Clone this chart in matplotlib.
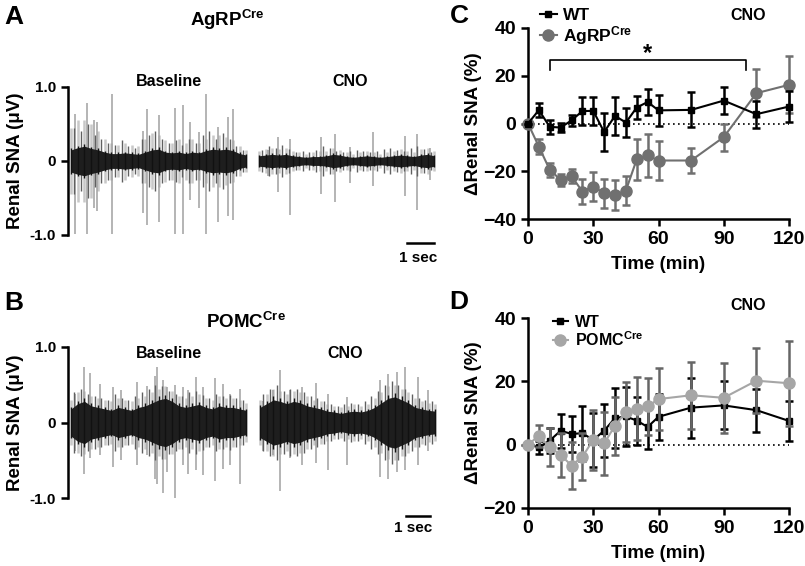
import matplotlib
matplotlib.use("Agg")
import matplotlib.pyplot as plt
from matplotlib.lines import Line2D
import numpy as np

plt.rcParams['font.family'] = ['Liberation Sans', 'DejaVu Sans']
plt.rcParams['font.weight'] = 'bold'
plt.rcParams['mathtext.fontset'] = 'custom'
plt.rcParams['mathtext.rm'] = 'Liberation Sans:bold'
plt.rcParams['mathtext.bf'] = 'Liberation Sans:bold'
plt.rcParams['mathtext.default'] = 'rm'

# ---------------- Panel A / B traces ----------------
env_step = 0.25
A_base_start, A_cno_start = 0.0, 6.96
B_base_start, B_cno_start = 0.0, 7.0

A_base_env = [0.15,0.18,0.20,0.17,0.15,0.12,0.10,0.10,0.11,0.10,0.09,0.12,0.15,0.16,0.12,0.11,0.12,0.10,0.12,0.11,0.14,0.16,0.15,0.16,0.14,0.10,0.08]
A_base_halo = [0.45,0.55,0.55,0.50,0.40,0.30,0.25,0.22,0.25,0.22,0.20,0.30,0.38,0.35,0.28,0.25,0.30,0.25,0.30,0.25,0.30,0.35,0.35,0.33,0.28,0.20,0.15]
A_base_minor = [0.45,0.40,0.50,0.35,0.30,0.25,0.22,0.28,0.20,0.18,0.30,0.35,0.40,0.30,0.25,0.28,0.22,0.30,0.25,0.35,0.40,0.30,0.38,0.30,0.20,0.15]
A_cno_env = [0.07,0.08,0.09,0.08,0.09,0.07,0.06,0.05,0.06,0.06,0.07,0.09,0.08,0.06,0.05,0.06,0.07,0.06,0.05,0.06,0.07,0.08,0.07,0.06,0.08,0.09,0.07]
A_cno_halo = [0.14,0.16,0.18,0.16,0.17,0.14,0.12,0.10,0.12,0.13,0.14,0.17,0.15,0.12,0.10,0.12,0.14,0.12,0.10,0.12,0.14,0.16,0.14,0.12,0.16,0.18,0.14]
A_cno_minor = [0.15,0.20,0.18,0.22,0.16,0.12,0.14,0.12,0.15,0.20,0.17,0.14,0.12,0.14,0.15,0.13,0.12,0.14,0.16,0.18,0.15,0.14,0.18,0.20,0.16,0.12]

A_base_spk_t = [0.15,0.60,0.86,0.95,1.51,2.68,2.80,3.27,3.85,4.14,4.41,4.74,5.02,5.46,5.83,6.01]
A_base_spk_hi = [0.64,0.79,0.55,0.53,0.90,0.40,0.70,0.62,0.72,0.76,0.53,0.39,0.90,0.46,0.60,0.70]
A_base_spk_lo = [-0.98,-0.98,-0.64,-0.68,-0.98,-0.70,-0.87,-0.82,-0.98,-0.98,-0.53,-0.64,-0.98,-0.82,-0.74,-0.80]
A_cno_spk_t = [7.30,7.68,8.12,9.28,9.78,10.35,11.20,12.38,12.82,13.30]
A_cno_spk_hi = [0.15,0.33,0.30,0.32,0.37,0.19,0.39,0.34,0.37,0.17]
A_cno_spk_lo = [-0.20,-0.42,-0.73,-0.44,-0.56,-0.30,-0.34,-0.47,-0.66,-0.25]

B_base_env = [0.18,0.25,0.28,0.22,0.20,0.18,0.16,0.20,0.18,0.16,0.20,0.22,0.26,0.30,0.32,0.28,0.22,0.20,0.22,0.24,0.20,0.18,0.22,0.20,0.20,0.18,0.16]
B_base_halo = [0.30,0.40,0.42,0.35,0.32,0.30,0.28,0.32,0.30,0.28,0.32,0.35,0.40,0.45,0.48,0.42,0.35,0.32,0.35,0.38,0.33,0.30,0.35,0.33,0.32,0.30,0.26]
B_base_minor = [0.40,0.45,0.38,0.35,0.32,0.30,0.38,0.32,0.30,0.35,0.40,0.45,0.50,0.48,0.42,0.38,0.35,0.40,0.42,0.36,0.32,0.38,0.35,0.36,0.32,0.30]
B_cno_env = [0.20,0.25,0.30,0.28,0.25,0.28,0.26,0.22,0.20,0.18,0.15,0.14,0.12,0.14,0.15,0.14,0.16,0.20,0.26,0.32,0.34,0.30,0.26,0.20,0.18,0.16,0.15]
B_cno_halo = [0.30,0.38,0.45,0.42,0.38,0.42,0.40,0.35,0.30,0.28,0.24,0.22,0.20,0.22,0.24,0.22,0.25,0.32,0.40,0.48,0.50,0.45,0.40,0.32,0.28,0.26,0.24]
B_cno_minor = [0.38,0.45,0.50,0.42,0.45,0.44,0.40,0.35,0.32,0.28,0.25,0.22,0.25,0.26,0.24,0.28,0.35,0.42,0.50,0.55,0.50,0.45,0.38,0.32,0.30,0.28]

B_base_spk_t = [0.15,0.50,0.70,1.07,1.54,1.84,2.43,2.80,3.11,3.17,3.40,3.54,3.85,4.14,4.35,4.62,4.90,5.33,5.64,5.89,6.26]
B_base_spk_hi = [0.38,0.74,0.65,0.51,0.47,0.43,0.54,0.48,0.61,0.73,0.56,0.47,0.50,0.47,0.43,0.60,0.47,0.59,0.51,0.38,0.45]
B_base_spk_lo = [-0.38,-0.68,-0.47,-0.43,-0.59,-0.50,-0.56,-0.43,-0.75,-0.82,-0.93,-0.66,-1.00,-0.56,-0.68,-0.63,-0.70,-0.77,-0.61,-0.56,-0.82]
B_cno_spk_t = [7.12,7.47,7.74,8.11,8.54,9.07,9.53,10.21,11.44,11.75,12.06,12.37,12.86,13.23]
B_cno_spk_hi = [0.29,0.43,0.69,0.43,0.47,0.52,0.38,0.34,0.56,0.64,0.67,0.73,0.60,0.43]
B_cno_spk_lo = [-0.38,-0.43,-0.91,-0.47,-0.56,-0.54,-0.63,-0.56,-0.72,-0.75,-0.66,-0.63,-0.56,-0.38]

# ---------------- Panel C / D data ----------------
time_pts = [0,5,10,15,20,25,30,35,40,45,50,55,60,75,90,105,120]
C_wt = [0,5.6,-1.4,-1.7,1.3,5.2,5.3,-3.6,3.2,0.4,6.7,9.0,5.5,5.7,9.6,3.9,7.1]
C_wt_err = [0,3.0,2.9,1.8,2.4,6.0,5.8,8.0,8.0,6.0,4.7,5.4,6.4,7.3,5.6,5.7,6.5]
C_agrp = [0,-9.7,-19.4,-23.6,-22.0,-28.5,-26.4,-29.2,-30.0,-28.1,-15.0,-13.4,-15.5,-15.5,-5.7,12.7,16.2]
C_agrp_err = [0,3.0,3.0,2.5,3.1,5.2,6.1,6.0,6.4,6.0,8.7,9.0,8.2,5.1,5.7,10.0,12.0]

D_wt = [0,-0.8,1.3,4.4,3.4,3.6,1.5,4.4,8.4,8.9,7.6,5.6,8.8,11.7,12.4,10.9,7.5]
D_wt_err = [0,2.0,4.0,5.3,5.8,8.7,8.5,8.3,9.4,9.2,7.6,7.0,7.3,9.5,7.6,6.8,6.4]
D_pomc = [0,2.8,-0.8,-3.2,-6.6,-3.8,1.5,0.4,6.0,10.3,11.4,12.1,14.4,15.6,14.8,20.2,19.4]
D_pomc_err = [0,3.5,6.0,7.0,7.4,7.4,9.5,10.0,9.2,9.6,10.0,8.9,9.9,10.6,11.0,10.2,13.4]

W, H = 805, 566
fig = plt.figure(figsize=(W/100, H/100), dpi=100)

def fx(px):
    return px / W

def fy(py):
    return 1 - py / H

def draw_segment(ax, start, env, halo, minor, spk_t, spk_hi, spk_lo):
    env = np.asarray(env); halo = np.asarray(halo); minor = np.asarray(minor)
    t = start + np.arange(len(env)) * env_step
    tm = start + env_step / 2 + np.arange(len(minor)) * env_step
    ax.vlines(t, -halo, halo, color='#c8c8c8', lw=1.8, zorder=1)
    ax.vlines(spk_t, spk_lo, spk_hi, color='#a0a0a0', lw=1.1, zorder=2)
    ax.vlines(tm, -minor, minor, color='#606060', lw=1.0, zorder=3)
    ax.fill_between(t, -env, env, color='#1e1e1e', lw=0, zorder=4)
    ax.vlines(t, -env * 1.15, env * 1.15, color='#111111', lw=1.0, zorder=5)


def trace_axes(bottom_px, top_px):
    ax = fig.add_axes([fx(68), fy(bottom_px), fx(437) - fx(68), (bottom_px - top_px) / H])
    ax.set_xlim(-0.111, 13.56)
    ax.set_ylim(-1.0, 1.0)
    for s in ['top', 'right', 'bottom']:
        ax.spines[s].set_visible(False)
    ax.spines['left'].set_linewidth(1.8)
    ax.set_xticks([])
    ax.set_yticks([-1.0, 0, 1.0])
    ax.set_yticklabels(['-1.0', '0', '1.0'])
    ax.tick_params(axis='y', length=5, width=1.8, labelsize=11)
    for lab in ax.get_yticklabels():
        lab.set_fontweight('bold')
    ax.set_ylabel('Renal SNA (μV)', fontsize=13.5, fontweight='bold', labelpad=4)
    return ax

# Panel A
axA = trace_axes(235, 87)
draw_segment(axA, A_base_start, A_base_env, A_base_halo, A_base_minor, A_base_spk_t, A_base_spk_hi, A_base_spk_lo)
draw_segment(axA, A_cno_start, A_cno_env, A_cno_halo, A_cno_minor, A_cno_spk_t, A_cno_spk_hi, A_cno_spk_lo)
axA.plot([12.44, 13.44], [-1.11, -1.11], color='black', lw=1.8, clip_on=False)

# Panel B
axB = trace_axes(498, 347)
draw_segment(axB, B_base_start, B_base_env, B_base_halo, B_base_minor, B_base_spk_t, B_base_spk_hi, B_base_spk_lo)
draw_segment(axB, B_cno_start, B_cno_env, B_cno_halo, B_cno_minor, B_cno_spk_t, B_cno_spk_hi, B_cno_spk_lo)
axB.plot([12.4, 13.3], [-1.24, -1.24], color='black', lw=1.8, clip_on=False)

# texts for A and B
fig.text(fx(4), fy(17), 'A', fontsize=19, fontweight='bold', va='center', ha='left')
fig.text(fx(4), fy(303), 'B', fontsize=19, fontweight='bold', va='center', ha='left')
fig.text(fx(227), fy(20), r'AgRP$^{\mathrm{Cre}}$', fontsize=13.5, fontweight='bold', ha='center', va='center')
fig.text(fx(246), fy(322), r'POMC$^{\mathrm{Cre}}$', fontsize=13.5, fontweight='bold', ha='center', va='center')
fig.text(fx(169), fy(82), 'Baseline', fontsize=11.5, fontweight='bold', ha='center', va='center')
fig.text(fx(350), fy(82), 'CNO', fontsize=11.5, fontweight='bold', ha='center', va='center')
fig.text(fx(169), fy(353), 'Baseline', fontsize=11.5, fontweight='bold', ha='center', va='center')
fig.text(fx(345), fy(353), 'CNO', fontsize=11.5, fontweight='bold', ha='center', va='center')
fig.text(fx(418), fy(258), '1 sec', fontsize=11, fontweight='bold', ha='center', va='center')
fig.text(fx(413), fy(528), '1 sec', fontsize=11, fontweight='bold', ha='center', va='center')

# ---------------- Panels C / D ----------------
def line_axes(bottom_px, top_px, ylo, yhi, yticks):
    ax = fig.add_axes([fx(528), fy(bottom_px), fx(789) - fx(528), (bottom_px - top_px) / H])
    ax.set_xlim(0, 120)
    ax.set_ylim(ylo, yhi)
    for s in ['top', 'right']:
        ax.spines[s].set_visible(False)
    for s in ['left', 'bottom']:
        ax.spines[s].set_linewidth(1.8)
    ax.set_xticks([0, 30, 60, 90, 120])
    ax.set_yticks(yticks)
    ax.tick_params(length=5, width=1.8, labelsize=14)
    for lab in ax.get_xticklabels() + ax.get_yticklabels():
        lab.set_fontweight('bold')
    ax.set_xlabel('Time (min)', fontsize=13.5, fontweight='bold', labelpad=6)
    ax.set_ylabel('ΔRenal SNA (%)', fontsize=13.5, fontweight='bold', labelpad=1)
    ax.plot([0, 120], [0, 0], color='black', lw=1.2, ls=(0, (1, 2)), zorder=1)
    return ax

def leg_handle(color, marker, ms):
    return Line2D([], [], color=color, marker=marker, ms=ms, lw=1.5)

axC = line_axes(219, 28, -40, 40, [-40, -20, 0, 20, 40])
axC.errorbar(time_pts, C_agrp, yerr=C_agrp_err, color='#707070', marker='o', ms=8,
             lw=1.5, elinewidth=1.8, capsize=3, capthick=1.8, zorder=3, clip_on=False)
axC.errorbar(time_pts, C_wt, yerr=C_wt_err, color='black', marker='s', ms=5,
             lw=1.5, elinewidth=1.8, capsize=3, capthick=1.8, zorder=4, clip_on=False)
axC.plot([10, 10, 100, 100], [22.2, 26.7, 26.7, 22.2], color='black', lw=1.2)
axC.text(55, 29.5, '*', fontsize=17, fontweight='bold', ha='center', va='center')
axC.legend([leg_handle('black', 's', 5), leg_handle('#707070', 'o', 8)],
           ['WT', r'AgRP$^{\mathrm{Cre}}$'], loc='upper left', bbox_to_anchor=(0.02, 1.14),
           frameon=False, handlelength=0.95, handletextpad=0.35, borderaxespad=0,
           labelspacing=0.05, prop={'weight': 'bold', 'size': 12.5})

axD = line_axes(508, 318, -20, 40, [-20, 0, 20, 40])
axD.errorbar(time_pts, D_wt, yerr=D_wt_err, color='black', marker='s', ms=5,
             lw=1.5, elinewidth=1.8, capsize=3, capthick=1.8, zorder=3, clip_on=False)
axD.errorbar(time_pts, D_pomc, yerr=D_pomc_err, color='#a6a6a6', marker='o', ms=8,
             lw=1.5, ecolor='#666666', elinewidth=1.8, capsize=3, capthick=1.8,
             zorder=4, clip_on=False)
axD.legend([leg_handle('black', 's', 5), leg_handle('#a6a6a6', 'o', 8)],
           ['WT', r'POMC$^{\mathrm{Cre}}$'], loc='upper left', bbox_to_anchor=(0.07, 1.05),
           frameon=False, handlelength=0.95, handletextpad=0.45, borderaxespad=0,
           labelspacing=0.0, prop={'weight': 'bold', 'size': 11.5})

fig.text(fx(459), fy(16), 'C', fontsize=19, fontweight='bold', ha='center', va='center')
fig.text(fx(459), fy(302), 'D', fontsize=19, fontweight='bold', ha='center', va='center')
fig.text(fx(748), fy(16), 'CNO', fontsize=11.5, fontweight='bold', ha='center', va='center')
fig.text(fx(748), fy(306), 'CNO', fontsize=11.5, fontweight='bold', ha='center', va='center')

fig.savefig('out.png', dpi=100)
